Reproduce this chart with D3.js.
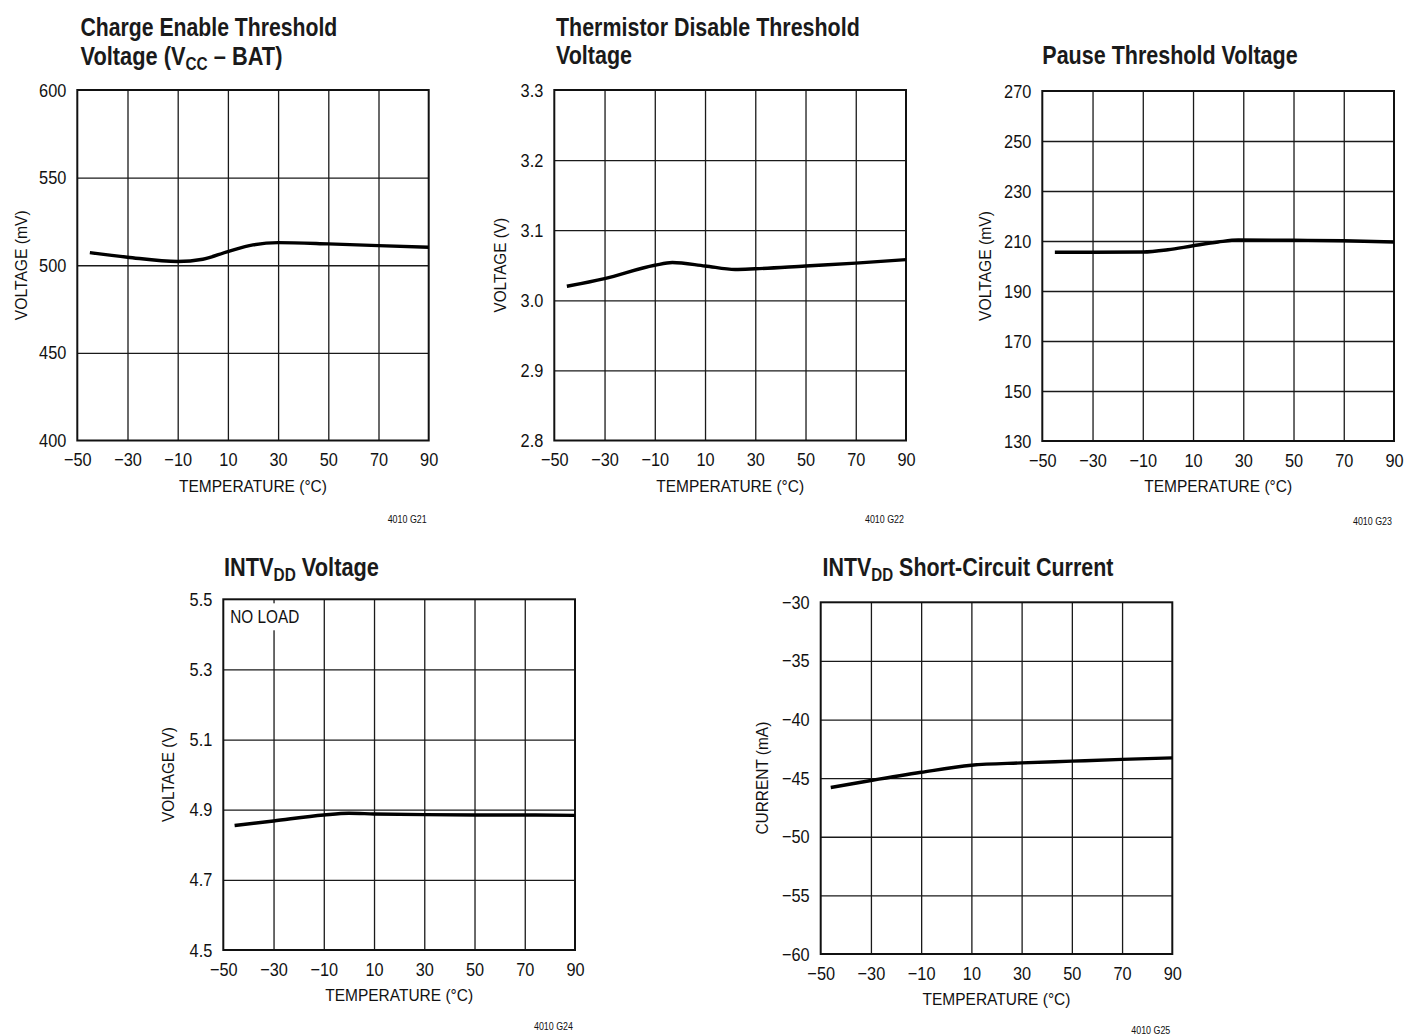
<!DOCTYPE html>
<html>
<head>
<meta charset="utf-8">
<script src="https://cdn.jsdelivr.net/npm/d3@7"></script>
<style>
  html, body { margin: 0; padding: 0; background: #fff; }
  svg { display: block; }
</style>
</head>
<body>
<svg id="chart" width="1405" height="1036"></svg>
<script>
// ---------------- DATA ----------------
const tempTicks = [-50, -30, -10, 10, 30, 50, 70, 90];

const chargeTicks = [400, 450, 500, 550, 600];
const chargeTemp = [-45, -30, -10, 0, 10, 20, 30, 50, 70, 90];
const chargeMv = [507.2, 504.6, 502.1, 503.4, 507.8, 511.6, 512.9, 512.2, 511.2, 510.3];

const thermTicks = [2.8, 2.9, 3.0, 3.1, 3.2, 3.3];
const thermTemp = [-45, -30, -10, -3, 10, 22, 30, 50, 70, 90];
const thermV = [3.020, 3.031, 3.050, 3.054, 3.049, 3.044, 3.045, 3.049, 3.053, 3.058];

const pauseTicks = [130, 150, 170, 190, 210, 230, 250, 270];
const pauseTemp = [-45, -30, -10, 0, 10, 20, 28, 50, 70, 90];
const pauseMv = [205.5, 205.5, 205.6, 206.5, 208.1, 209.6, 210.4, 210.3, 210.1, 209.6];

const intvTicks = [4.5, 4.7, 4.9, 5.1, 5.3, 5.5];
const intvTemp = [-45.5, -30, -10, 0, 10, 30, 50, 70, 90];
const intvV = [4.855, 4.868, 4.885, 4.890, 4.888, 4.886, 4.885, 4.885, 4.884];

const scTicks = [-60, -55, -50, -45, -40, -35, -30];
const scTemp = [-46, -30, -10, 10, 30, 50, 70, 90];
const scMa = [-45.8, -45.2, -44.5, -43.9, -43.7, -43.55, -43.4, -43.27];

// ---------------- LAYOUT ----------------
const FONT = "'Liberation Sans',Arial,Helvetica,sans-serif";
const TICK_SX = 0.86;
const minus = s => String(s).replace("-", "\u2212");

const panels = [
  { box: [77.3, 90, 428.7, 440.5], temps: chargeTemp, vals: chargeMv, ticks: chargeTicks,
    fmt: d => d3.format("d")(d), ylabel: "VOLTAGE (mV)", ylw: 110, ylOff: 50, code: "4010 G21", codeY: 523,
    title: [{ x: 80.5, y: 35.5, w: 257, parts: [["Charge Enable Threshold"]] },
            { x: 80.5, y: 65, w: 202, parts: [["Voltage (V"], ["CC", "sub"], [" \u2013 BAT)"]] }] },
  { box: [554.3, 90, 906, 440.5], temps: thermTemp, vals: thermV, ticks: thermTicks,
    fmt: d => d3.format(".1f")(d), ylabel: "VOLTAGE (V)", ylw: 94.5, ylOff: 48, code: "4010 G22", codeY: 523,
    title: [{ x: 556, y: 35.5, w: 304, parts: [["Thermistor Disable Threshold"]] },
            { x: 556, y: 64, w: 76, parts: [["Voltage"]] }] },
  { box: [1042.3, 91, 1394, 441], temps: pauseTemp, vals: pauseMv, ticks: pauseTicks,
    fmt: d => d3.format("d")(d), ylabel: "VOLTAGE (mV)", ylw: 110, ylOff: 51, code: "4010 G23", codeY: 525,
    title: [{ x: 1042.3, y: 64, w: 255.5, parts: [["Pause Threshold Voltage"]] }] },
  { box: [223.3, 599.3, 575, 950], temps: intvTemp, vals: intvV, ticks: intvTicks,
    fmt: d => d3.format(".1f")(d), ylabel: "VOLTAGE (V)", ylw: 95, ylOff: 49, code: "4010 G24", codeY: 1030,
    note: "NO LOAD",
    title: [{ x: 224, y: 576, w: 155, parts: [["INTV"], ["DD", "sub"], [" Voltage"]] }] },
  { box: [820.7, 602.3, 1172.3, 954], temps: scTemp, vals: scMa, ticks: scTicks,
    fmt: d => minus(d3.format("d")(d)), ylabel: "CURRENT (mA)", ylw: 113, ylOff: 53, code: "4010 G25", codeY: 1034,
    title: [{ x: 822.5, y: 576, w: 291.5, parts: [["INTV"], ["DD", "sub"], [" Short-Circuit Current"]] }] }
];

// squeeze a text horizontally so its width equals target (rot = rotation in degrees)
function fit(text, x, y, target, rot) {
  const w = text.node().getBBox().width;
  const sx = target / w;
  text.attr("x", 0).attr("y", 0)
    .attr("transform", `translate(${x},${y})${rot ? ` rotate(${rot})` : ""} scale(${sx},1)`);
}
function squeezeTicks(axisG, sx) {
  axisG.selectAll(".tick text").each(function () {
    const t = d3.select(this);
    const tx = +t.attr("x") || 0, ty = +t.attr("y") || 0;
    t.attr("x", 0).attr("y", 0).attr("transform", `translate(${tx},${ty}) scale(${sx},1)`);
  });
}

const svg = d3.select("#chart");
svg.append("rect").attr("width", 1405).attr("height", 1036).attr("fill", "#fff");

panels.forEach(p => {
  const [L, T, R, B] = p.box;
  const g = svg.append("g");
  const x = d3.scaleLinear().domain([tempTicks[0], tempTicks[tempTicks.length - 1]]).range([L, R]);
  const y = d3.scaleLinear().domain([p.ticks[0], p.ticks[p.ticks.length - 1]]).range([B, T]);

  // vertical grid
  const vg = g.append("g").attr("transform", `translate(0,${B})`)
    .call(d3.axisBottom(x).tickValues(tempTicks.slice(1, -1)).tickSize(-(B - T)).tickFormat(""));
  vg.select(".domain").remove();
  vg.selectAll("line").attr("stroke", "#1a1a1a").attr("stroke-width", 1.3);

  // horizontal grid
  const hg = g.append("g").attr("transform", `translate(${L},0)`)
    .call(d3.axisLeft(y).tickValues(p.ticks.slice(1, -1)).tickSize(-(R - L)).tickFormat(""));
  hg.select(".domain").remove();
  hg.selectAll("line").attr("stroke", "#1a1a1a").attr("stroke-width", 1.3);

  // note
  if (p.note) {
    g.append("rect").attr("x", L + 4).attr("y", T + 4).attr("width", 74).attr("height", 27).attr("fill", "#fff");
    const nt = g.append("text").attr("font-family", FONT).attr("font-size", 19).attr("fill", "#111").text(p.note);
    fit(nt, L + 7, T + 23.5, 69);
  }

  // frame
  g.append("rect").attr("x", L).attr("y", T).attr("width", R - L).attr("height", B - T)
    .attr("fill", "none").attr("stroke", "#111").attr("stroke-width", 2);

  // x tick labels
  const xa = g.append("g").attr("transform", `translate(0,${B})`)
    .call(d3.axisBottom(x).tickValues(tempTicks).tickSize(0).tickPadding(12).tickFormat(d => minus(d)));
  xa.select(".domain").remove();
  xa.selectAll("text").attr("font-family", FONT).attr("font-size", 19).attr("fill", "#111");
  squeezeTicks(xa, TICK_SX);

  // y tick labels
  const ya = g.append("g").attr("transform", `translate(${L},0)`)
    .call(d3.axisLeft(y).tickValues(p.ticks).tickSize(0).tickPadding(11).tickFormat(p.fmt));
  ya.select(".domain").remove();
  ya.selectAll("text").attr("font-family", FONT).attr("font-size", 19).attr("fill", "#111");
  squeezeTicks(ya, TICK_SX);

  // axis titles
  const xt = g.append("text").attr("text-anchor", "middle").attr("font-family", FONT)
    .attr("font-size", 17).attr("fill", "#111").text("TEMPERATURE (\u00B0C)");
  fit(xt, (L + R) / 2, B + 51, 148);
  const yt = g.append("text").attr("text-anchor", "middle").attr("font-family", FONT)
    .attr("font-size", 17).attr("fill", "#111").text(p.ylabel);
  fit(yt, L - p.ylOff, (T + B) / 2, p.ylw, -90);

  // code
  const ct = g.append("text").attr("text-anchor", "end")
    .attr("font-family", FONT).attr("font-size", 10).attr("fill", "#111").text(p.code);
  fit(ct, R - 2, p.codeY, 39.5);

  // curve
  const pts = p.temps.map((t, i) => [t, p.vals[i]]);
  g.append("path").datum(pts)
    .attr("d", d3.line().x(d => x(d[0])).y(d => y(d[1])).curve(d3.curveMonotoneX))
    .attr("fill", "none").attr("stroke", "#000").attr("stroke-width", 3.4);

  // titles
  p.title.forEach(t => {
    const tx = g.append("text").attr("font-family", FONT).attr("font-weight", "bold")
      .attr("font-size", 25.5).attr("fill", "#1a1a1a");
    let sub = false;
    t.parts.forEach(([s, kind]) => {
      const ts = tx.append("tspan").text(s);
      if (kind === "sub") { ts.attr("font-size", 18).attr("dy", 5); sub = true; }
      else if (sub) { ts.attr("dy", -5); sub = false; }
    });
    fit(tx, t.x, t.y, t.w);
  });
});
</script>
</body>
</html>
